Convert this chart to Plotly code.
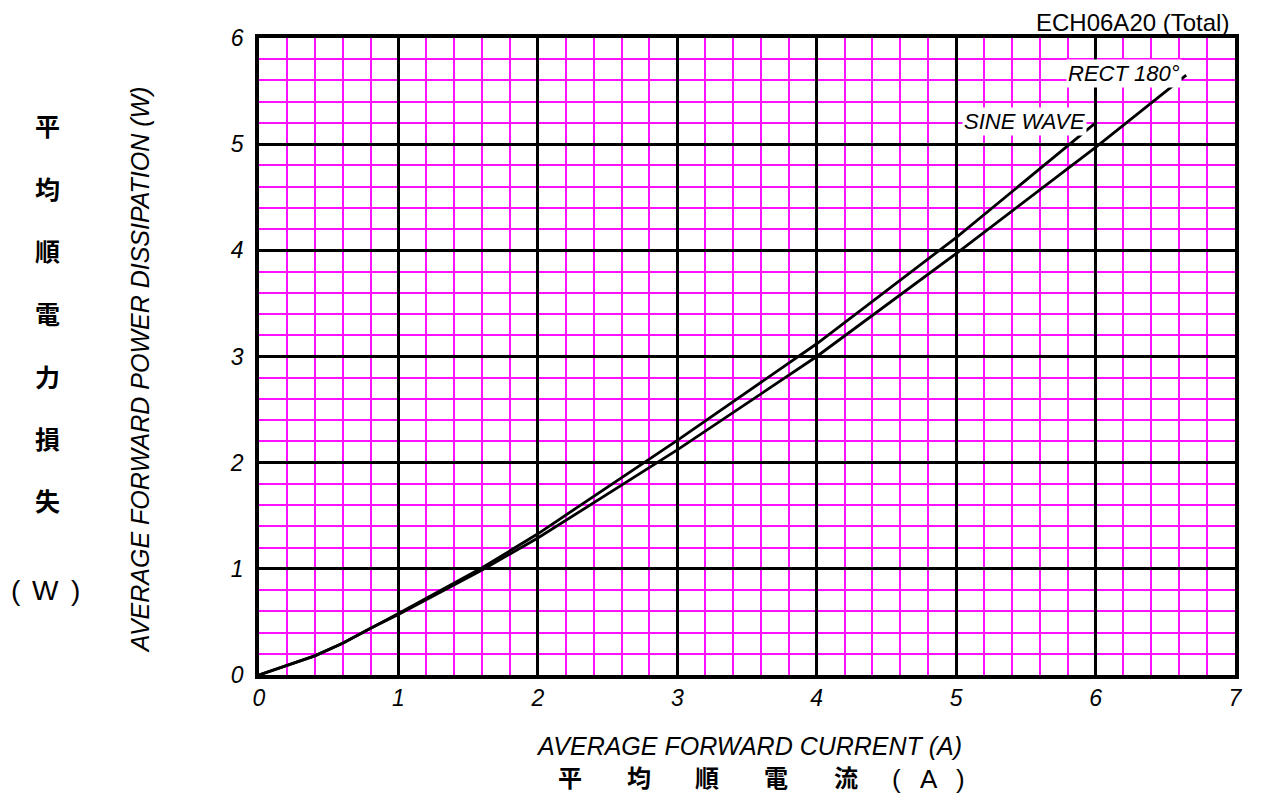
import plotly.graph_objects as go

# ---- data ----
sine_x = [0, 0.4, 0.6, 0.8, 1.0, 1.6, 2.0, 3.0, 4.0, 5.0, 5.8, 6.0]
sine_y = [0, 0.18, 0.30, 0.44, 0.58, 1.01, 1.33, 2.21, 3.12, 4.12, 4.99, 5.20]
rect_x = [0, 0.4, 0.6, 0.8, 1.0, 1.6, 2.0, 3.0, 4.0, 5.0, 6.0, 6.65]
rect_y = [0, 0.18, 0.30, 0.44, 0.57, 0.99, 1.29, 2.12, 3.00, 3.97, 4.97, 5.65]

x_ticks = [0, 1, 2, 3, 4, 5, 6, 7]
y_ticks = [0, 1, 2, 3, 4, 5, 6]

x_title = "AVERAGE FORWARD CURRENT (A)"
y_title = "AVERAGE FORWARD POWER DISSIPATION (W)"
x_title_cjk = ["平", "均", "順", "電", "流"]
x_title_unit = ["(", "A", ")"]
y_title_cjk = ["平", "均", "順", "電", "力", "損", "失"]
y_title_unit = ["(", "W", ")"]
chart_id = "ECH06A20 (Total)"

# ---- layout geometry (screen px; page body has an 8px margin) ----
OFF = 8
W, H = 1247, 787
PL, PR, PT, PB = 259, 1238, 38, 675          # plot area on screen
ML, MT = PL - OFF, PT - OFF
PW, PH = PR - PL, PB - PT
MR = W - ML - PW
MB = H - MT - PH

def px(xs):
    return (xs - PL) / PW

def py(ys):
    return (PB - ys) / PH

LAT = "Liberation Sans, Arial, sans-serif"
CJK = "Noto Sans CJK JP, Noto Sans CJK TC, sans-serif"

fig = go.Figure()
fig.add_trace(go.Scatter(x=sine_x, y=sine_y, mode="lines",
                         line=dict(color="black", width=2.8), name="SINE WAVE",
                         showlegend=False))
fig.add_trace(go.Scatter(x=rect_x, y=rect_y, mode="lines",
                         line=dict(color="black", width=2.8), name="RECT 180°",
                         showlegend=False))

axis_common = dict(
    showline=True, linecolor="black", linewidth=3.5, mirror=True,
    showgrid=True, gridcolor="black", gridwidth=2.8,
    zeroline=False, ticks="",
    tickfont=dict(family=LAT, size=23, color="black", style="italic"),
    minor=dict(dtick=0.2, showgrid=True, gridcolor="#ff10ff", gridwidth=1.8, ticks=""),
)

fig.update_xaxes(range=[0, 7], tickvals=x_ticks, ticktext=[str(v) for v in x_ticks],
                 ticklabelstandoff=0, **axis_common)
fig.update_yaxes(range=[0, 6], tickvals=y_ticks, ticktext=[str(v) for v in y_ticks],
                 ticklabelstandoff=7, **axis_common)

ann = []
# curve labels
ann.append(dict(x=5.94, y=5.21, xref="x", yref="y", text="SINE WAVE", showarrow=False,
                xanchor="right", yanchor="middle", bgcolor="white", borderpad=1,
                font=dict(family=LAT, size=22, color="black", style="italic")))
ann.append(dict(x=6.62, y=5.67, xref="x", yref="y", text="RECT 180°", showarrow=False,
                xanchor="right", yanchor="middle", bgcolor="white", borderpad=1,
                font=dict(family=LAT, size=22, color="black", style="italic")))
# chart id
ann.append(dict(x=px(1234), y=py(22), xref="paper", yref="paper", text=chart_id,
                showarrow=False, xanchor="right", yanchor="middle",
                font=dict(family=LAT, size=24, color="black")))
# x titles
ann.append(dict(x=px(751), y=py(746), xref="paper", yref="paper", text=x_title,
                showarrow=False, xanchor="center", yanchor="middle",
                font=dict(family=LAT, size=25, color="black", style="italic")))
for ch, xs in zip(x_title_cjk, [571, 640, 708, 778, 848]):
    ann.append(dict(x=px(xs), y=py(776), xref="paper", yref="paper", text=ch,
                    showarrow=False, xanchor="center", yanchor="middle", borderpad=0,
                    font=dict(family=CJK, size=24, color="black", weight="bold")))
for ch, xs in zip(x_title_unit, [898, 931, 963]):
    ann.append(dict(x=px(xs), y=py(779), xref="paper", yref="paper", text=ch,
                    showarrow=False, xanchor="center", yanchor="middle", borderpad=0,
                    font=dict(family=LAT, size=26, color="black")))
# y titles
ann.append(dict(x=px(140), y=py(370), xref="paper", yref="paper", text=y_title,
                showarrow=False, xanchor="center", yanchor="middle", textangle=-90,
                font=dict(family=LAT, size=25, color="black", style="italic")))
for ch, ys in zip(y_title_cjk, [125, 188, 250, 313, 376, 438, 500]):
    ann.append(dict(x=px(47), y=py(ys), xref="paper", yref="paper", text=ch,
                    showarrow=False, xanchor="center", yanchor="middle",
                    font=dict(family=CJK, size=25, color="black", weight="bold")))
for ch, xs in zip(y_title_unit, [15, 45, 75]):
    ann.append(dict(x=px(xs), y=py(590), xref="paper", yref="paper", text=ch,
                    showarrow=False, xanchor="center", yanchor="middle",
                    font=dict(family=LAT, size=28, color="black")))

fig.update_layout(
    width=W, height=H,
    margin=dict(l=ML, r=MR, t=MT, b=MB, pad=0),
    paper_bgcolor="white", plot_bgcolor="white",
    annotations=ann, showlegend=False,
)

fig.write_html("out.html", config={"displayModeBar": False})
